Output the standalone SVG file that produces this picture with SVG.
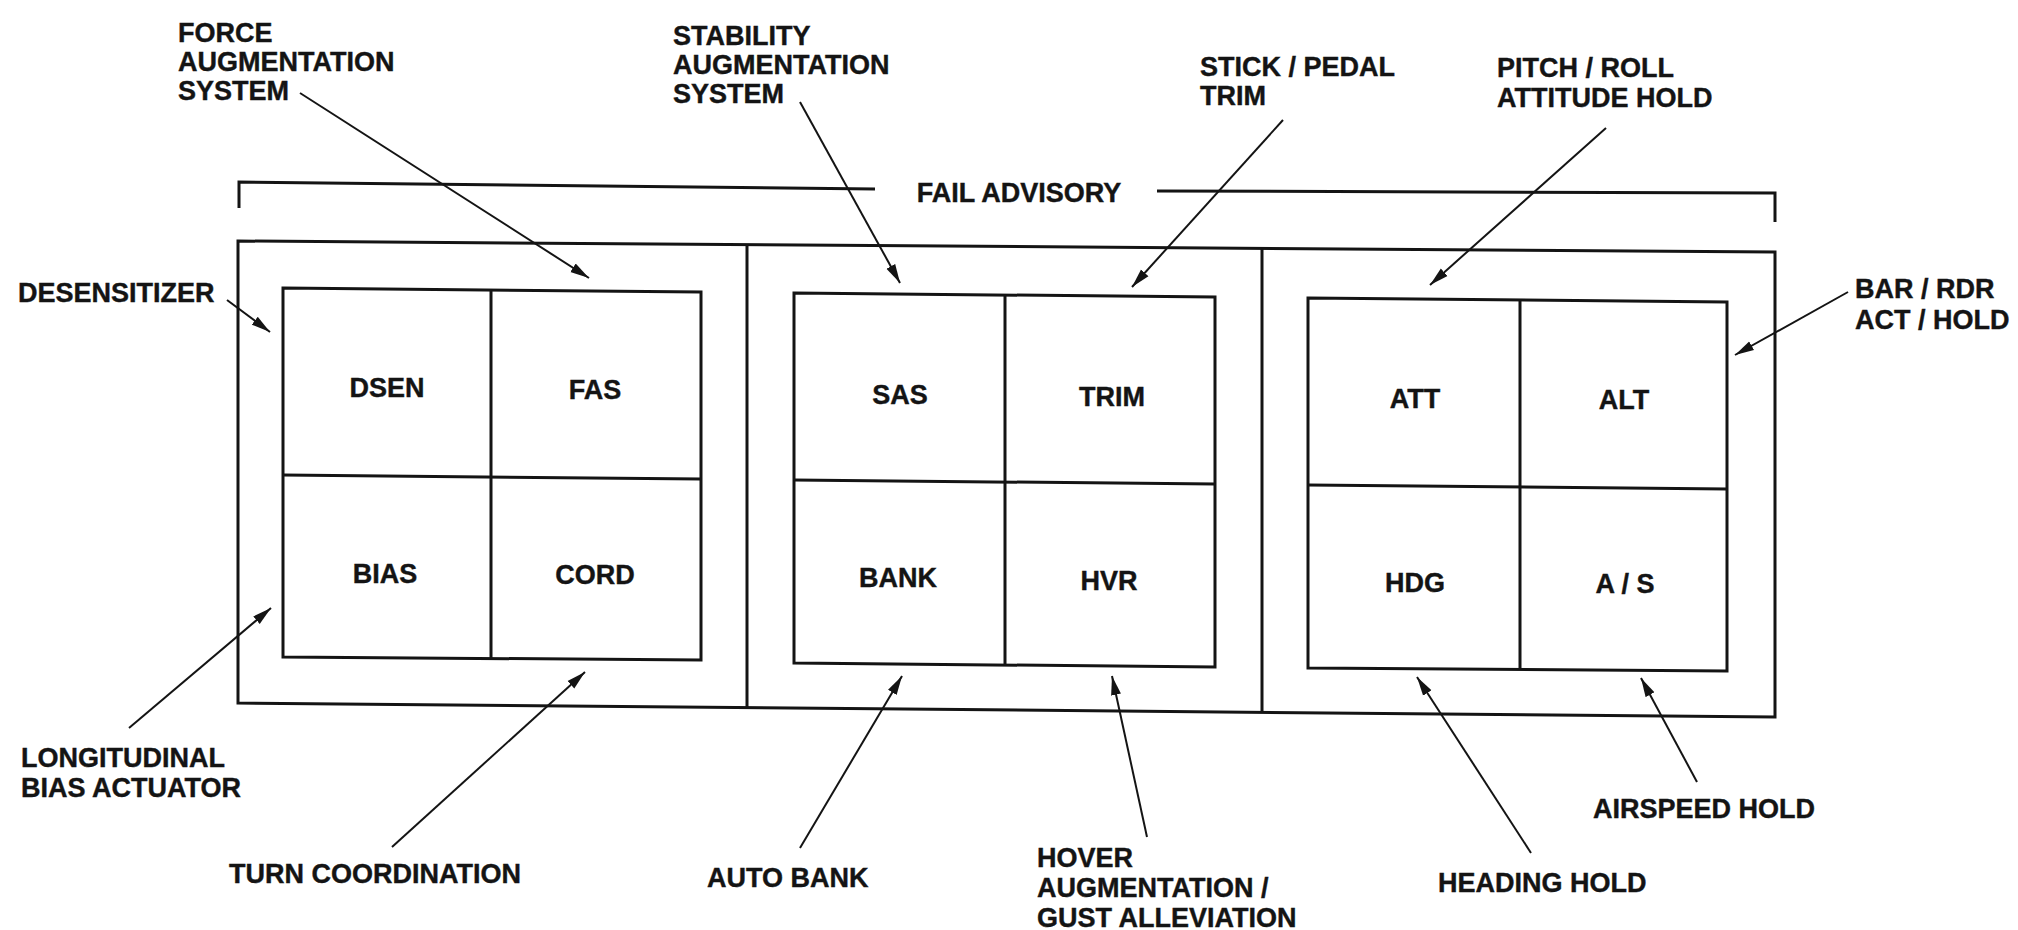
<svg xmlns="http://www.w3.org/2000/svg" width="2018" height="930" viewBox="0 0 2018 930">
  <defs>
    <style>
      text { font-family: "Liberation Sans", Arial, sans-serif; font-weight: bold; font-size: 27px; fill: #141414; stroke: #141414; stroke-width: 0.4; }
      .cell { text-anchor: middle; }
      .box { fill: none; stroke: #141414; stroke-width: 3; stroke-linejoin: miter; }
      .div { fill: none; stroke: #141414; stroke-width: 3; }
      .lead { fill: none; stroke: #141414; stroke-width: 2; marker-end: url(#ah); }
      .brk { fill: none; stroke: #141414; stroke-width: 3; }
    </style>
    <marker id="ah" markerUnits="userSpaceOnUse" markerWidth="20" markerHeight="12" refX="19" refY="6" orient="auto">
      <path d="M0,1 L19,6 L0,11 Z" fill="#141414"/>
    </marker>
  </defs>
  <rect width="2018" height="930" fill="#ffffff"/>

  <g id="fail-advisory">
    <path class="brk" d="M239,208 L239,182 L875,189"/>
    <path class="brk" d="M1157,191 L1775,193 L1775,222"/>
    <text x="1019" y="202" class="cell">FAIL ADVISORY</text>
  </g>

  <g id="panel-frame">
    <path class="box" d="M238,241 L1775,252 L1775,717 L238,703 Z"/>
    <path class="div" d="M747,245 L747,708"/>
    <path class="div" d="M1262,248 L1262,712"/>
  </g>

  <g id="panel-left">
    <path class="box" d="M283,288 L701,292 L701,660 L283,657 Z"/>
    <path class="div" d="M491,290 L491,659"/>
    <path class="div" d="M283,475 L701,479"/>
    <text class="cell" x="387" y="397">DSEN</text>
    <text class="cell" x="595" y="399">FAS</text>
    <text class="cell" x="385" y="583">BIAS</text>
    <text class="cell" x="595" y="584">CORD</text>
  </g>

  <g id="panel-middle">
    <path class="box" d="M794,293 L1215,297 L1215,667 L794,663 Z"/>
    <path class="div" d="M1005,295 L1005,665"/>
    <path class="div" d="M794,480 L1215,484"/>
    <text class="cell" x="900" y="404">SAS</text>
    <text class="cell" x="1112" y="406">TRIM</text>
    <text class="cell" x="898" y="587">BANK</text>
    <text class="cell" x="1109" y="590">HVR</text>
  </g>

  <g id="panel-right">
    <path class="box" d="M1308,298 L1727,302 L1727,671 L1308,668 Z"/>
    <path class="div" d="M1520,300 L1520,670"/>
    <path class="div" d="M1308,485 L1727,489"/>
    <text class="cell" x="1415" y="408">ATT</text>
    <text class="cell" x="1624" y="409">ALT</text>
    <text class="cell" x="1415" y="592">HDG</text>
    <text class="cell" x="1625" y="593">A / S</text>
  </g>

  <g id="labels">
    <g id="lbl-fas"><text x="178" y="42">FORCE</text><text x="178" y="71">AUGMENTATION</text><text x="178" y="100">SYSTEM</text></g>
    <g id="lbl-sas"><text x="673" y="45">STABILITY</text><text x="673" y="74">AUGMENTATION</text><text x="673" y="103">SYSTEM</text></g>
    <g id="lbl-trim"><text x="1200" y="76">STICK / PEDAL</text><text x="1200" y="105">TRIM</text></g>
    <g id="lbl-att"><text x="1497" y="77">PITCH / ROLL</text><text x="1497" y="107">ATTITUDE HOLD</text></g>
    <g id="lbl-dsen"><text x="18" y="302">DESENSITIZER</text></g>
    <g id="lbl-bar"><text x="1855" y="298">BAR / RDR</text><text x="1855" y="329">ACT / HOLD</text></g>
    <g id="lbl-bias"><text x="21" y="767">LONGITUDINAL</text><text x="21" y="797">BIAS ACTUATOR</text></g>
    <g id="lbl-cord"><text x="229" y="883">TURN COORDINATION</text></g>
    <g id="lbl-bank"><text x="707" y="887">AUTO BANK</text></g>
    <g id="lbl-hvr"><text x="1037" y="867">HOVER</text><text x="1037" y="897">AUGMENTATION /</text><text x="1037" y="927">GUST ALLEVIATION</text></g>
    <g id="lbl-hdg"><text x="1438" y="892">HEADING HOLD</text></g>
    <g id="lbl-as"><text x="1593" y="818">AIRSPEED HOLD</text></g>
  </g>

  <g id="connectors">
    <line class="lead" x1="300" y1="93" x2="589" y2="278"/>
    <line class="lead" x1="800" y1="102" x2="900" y2="283"/>
    <line class="lead" x1="1283" y1="120" x2="1132" y2="287"/>
    <line class="lead" x1="1606" y1="128" x2="1430" y2="285"/>
    <line class="lead" x1="227" y1="300" x2="270" y2="332"/>
    <line class="lead" x1="1848" y1="292" x2="1735" y2="355"/>
    <line class="lead" x1="129" y1="728" x2="271" y2="608"/>
    <line class="lead" x1="392" y1="847" x2="585" y2="672"/>
    <line class="lead" x1="800" y1="848" x2="902" y2="676"/>
    <line class="lead" x1="1147" y1="837" x2="1112" y2="676"/>
    <line class="lead" x1="1531" y1="853" x2="1417" y2="677"/>
    <line class="lead" x1="1697" y1="782" x2="1641" y2="678"/>
  </g>
</svg>
